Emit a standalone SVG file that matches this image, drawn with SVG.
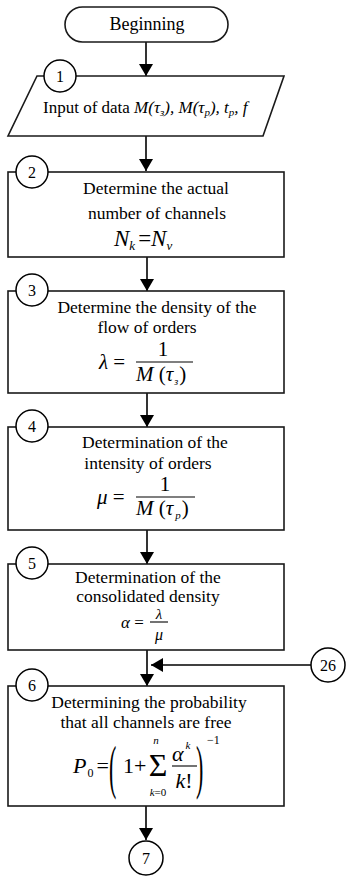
<svg xmlns="http://www.w3.org/2000/svg" width="350" height="876" viewBox="0 0 350 876" font-family="'Liberation Serif', 'Times New Roman', Tinos, serif">
<style>
text{font-family:'Liberation Serif','Times New Roman',Tinos,serif;fill:#000}
.t{font-size:17.5px;text-anchor:middle}
.n{font-size:16px;text-anchor:middle}
.i{font-style:italic}
.shape{fill:#fff;stroke:#1a1a1a;stroke-width:1.6}
.c{fill:#fff;stroke:#000;stroke-width:1.5}
.ln{stroke:#000;stroke-width:1.6;fill:none}
.bar{stroke:#000;stroke-width:1.1}
</style>
<defs>
<marker id="ah" viewBox="0 0 12 14" refX="12" refY="7" markerWidth="12" markerHeight="14" markerUnits="userSpaceOnUse" orient="auto">
<path d="M0,0 L12,7 L0,14 Z" fill="#000"/>
</marker>
</defs>
<g id="connectors">
<line class="ln" x1="146" y1="42" x2="146" y2="76" marker-end="url(#ah)"/>
<line class="ln" x1="146" y1="136" x2="146" y2="171" marker-end="url(#ah)"/>
<line class="ln" x1="147" y1="257" x2="147" y2="291" marker-end="url(#ah)"/>
<line class="ln" x1="147" y1="393" x2="147" y2="427" marker-end="url(#ah)"/>
<line class="ln" x1="147" y1="530" x2="147" y2="564" marker-end="url(#ah)"/>
<line class="ln" x1="147" y1="650" x2="147" y2="686" marker-end="url(#ah)"/>
<line class="ln" x1="311" y1="665" x2="151" y2="665" marker-end="url(#ah)"/>
<line class="ln" x1="146" y1="806" x2="146" y2="840" marker-end="url(#ah)"/>
</g>
<g id="start">
<rect class="shape" x="65" y="7" width="163" height="35" rx="17.5"/>
<text class="t" x="147" y="30" style="font-size:18px">Beginning</text>
</g>
<g id="node1">
<polygon class="shape" points="37,76 284,76 263,136 8,136"/>
<circle class="c" cx="60" cy="76" r="16"/>
<text class="n" x="60" y="82">1</text>
<text x="43" y="113" style="font-size:17px">Input of data <tspan class="i">M(τ</tspan><tspan class="i" font-size="11" dy="3">з</tspan><tspan class="i" dy="-3">), M(τ</tspan><tspan class="i" font-size="11" dy="3">p</tspan><tspan class="i" dy="-3">), t</tspan><tspan class="i" font-size="11" dy="3">p</tspan><tspan class="i" dy="-3">, f</tspan></text>
</g>
<g id="node2">
<rect class="shape" x="8" y="172" width="276" height="85"/>
<circle class="c" cx="32" cy="172" r="16"/>
<text class="n" x="32" y="178">2</text>
<text class="t" x="156" y="194">Determine the actual</text>
<text class="t" x="157" y="219">number of channels</text>
<text x="114" y="246" style="font-size:23px"><tspan class="i">N</tspan><tspan class="i" font-size="13" dy="4">k</tspan><tspan dy="-4" dx="3">=</tspan><tspan class="i">N</tspan><tspan class="i" font-size="13" dy="4">ν</tspan></text>
</g>
<g id="node3">
<rect class="shape" x="8" y="291" width="276" height="102"/>
<circle class="c" cx="32" cy="290" r="16"/>
<text class="n" x="32" y="296">3</text>
<text class="t" x="157" y="313">Determine the density of the</text>
<text class="t" x="147" y="333">flow of orders</text>
<text x="99" y="369" style="font-size:21px"><tspan class="i">λ</tspan> =</text>
<text x="163" y="356" style="font-size:21px;text-anchor:middle">1</text>
<line class="bar" x1="136" y1="362" x2="193" y2="362"/>
<text x="136" y="381" style="font-size:21px"><tspan class="i">M</tspan> (<tspan class="i">τ</tspan><tspan class="i" font-size="10" dy="4" dx="1">з</tspan><tspan dy="-4" dx="1">)</tspan></text>
</g>
<g id="node4">
<rect class="shape" x="8" y="427" width="276" height="103"/>
<circle class="c" cx="32" cy="426" r="16"/>
<text class="n" x="32" y="432">4</text>
<text class="t" x="155" y="448">Determination of the</text>
<text class="t" x="148" y="469">intensity of orders</text>
<text x="97" y="504" style="font-size:21px"><tspan class="i">μ</tspan> =</text>
<text x="165" y="491" style="font-size:21px;text-anchor:middle">1</text>
<line class="bar" x1="136" y1="497" x2="195" y2="497"/>
<text x="136" y="515" style="font-size:21px"><tspan class="i">M</tspan> (<tspan class="i">τ</tspan><tspan class="i" font-size="11" dy="4" dx="2">p</tspan><tspan dy="-4" dx="1">)</tspan></text>
</g>
<g id="node5">
<rect class="shape" x="8" y="564" width="276" height="86"/>
<circle class="c" cx="32" cy="563" r="16"/>
<text class="n" x="32" y="569">5</text>
<text class="t" x="148" y="583">Determination of the</text>
<text class="t" x="148" y="602">consolidated density</text>
<text x="121" y="628" style="font-size:17px"><tspan class="i">α</tspan> =</text>
<text x="159" y="619" class="i" style="font-size:15px;text-anchor:middle">λ</text>
<line class="bar" x1="150" y1="622" x2="168" y2="622"/>
<text x="159" y="640" class="i" style="font-size:16px;text-anchor:middle">μ</text>
</g>
<g id="node6">
<rect class="shape" x="8" y="686" width="276" height="120"/>
<circle class="c" cx="32" cy="685" r="16"/>
<text class="n" x="32" y="691">6</text>
<text class="t" x="149" y="708">Determining the probability</text>
<text class="t" x="146" y="728">that all channels are free</text>
<text x="73" y="773" style="font-size:22px"><tspan class="i">P</tspan><tspan font-size="12" dy="4" dx="1">0</tspan><tspan dy="-4" dx="3">=</tspan></text>
<text transform="translate(109,787) scale(1,2.7)" style="font-size:22px">(</text>
<text x="123" y="773" style="font-size:22px">1+</text>
<text x="158" y="776" style="font-size:32px;text-anchor:middle">Σ</text>
<text x="156" y="744" class="i" style="font-size:11px;text-anchor:middle">n</text>
<text x="158" y="796" style="font-size:11px;text-anchor:middle"><tspan class="i">k</tspan>=0</text>
<text x="172" y="761" style="font-size:22px"><tspan class="i">α</tspan><tspan class="i" font-size="11" dy="-12" dx="2">k</tspan></text>
<line class="bar" x1="172" y1="766" x2="197" y2="766"/>
<text x="184" y="788" style="font-size:22px;text-anchor:middle"><tspan class="i">k</tspan>!</text>
<text transform="translate(196,787) scale(1,2.7)" style="font-size:22px">)</text>
<text x="207" y="744" style="font-size:12px">−1</text>
</g>
<g id="conn26">
<circle class="c" cx="328" cy="665" r="17"/>
<text class="n" x="328" y="671">26</text>
</g>
<g id="conn7">
<circle class="c" cx="146" cy="858" r="17"/>
<text class="n" x="146" y="864">7</text>
</g>
</svg>
